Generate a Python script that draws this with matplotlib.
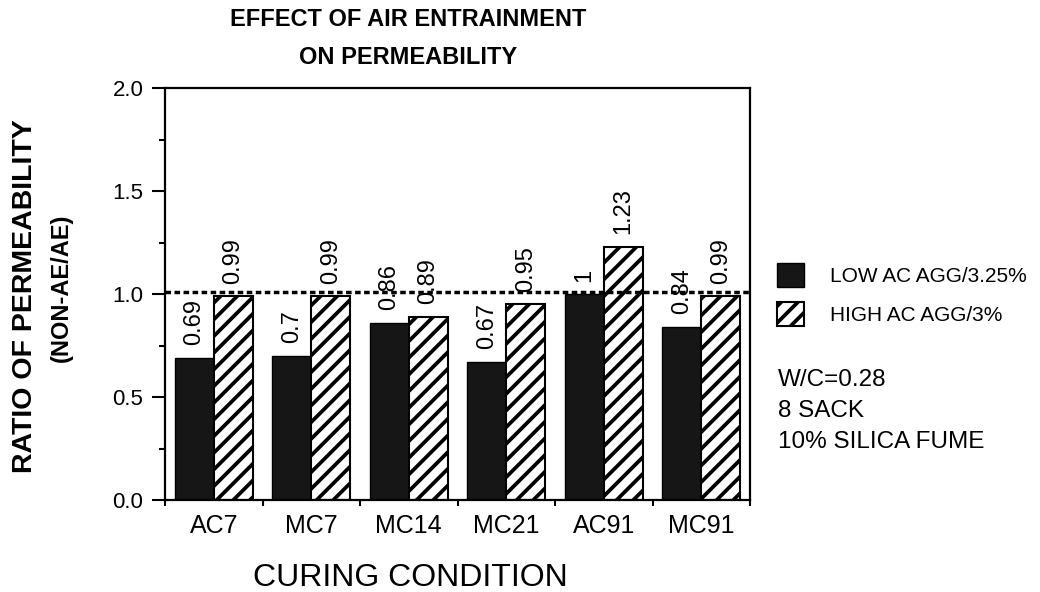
import numpy as np
import matplotlib.pyplot as plt
from matplotlib.ticker import MultipleLocator

plt.rcParams['font.family'] = ['Liberation Sans', 'DejaVu Sans']
plt.rcParams['hatch.linewidth'] = 2.7

# data
conditions = ['AC7', 'MC7', 'MC14', 'MC21', 'AC91', 'MC91']
low_ac = [0.69, 0.7, 0.86, 0.67, 1, 0.84]
high_ac = [0.99, 0.99, 0.89, 0.95, 1.23, 0.99]
ref_level = 1.01
notes = ['W/C=0.28', '8 SACK', '10% SILICA FUME']

fig = plt.figure(figsize=(10.4, 5.92), dpi=100)
ax = fig.add_axes([165 / 1040, 92 / 592, 585 / 1040, 412 / 592])

x = np.arange(len(conditions))
w = 0.4
b1 = ax.bar(x - w / 2, low_ac, w, color='#161616', edgecolor='black', linewidth=1,
            label='LOW AC AGG/3.25%')
b2 = ax.bar(x + w / 2, high_ac, w, color='white', edgecolor='black', hatch='//',
            linewidth=1.5, label='HIGH AC AGG/3%')

# value labels, rotated
for bars, vals in ((b1, low_ac), (b2, high_ac)):
    for r, v in zip(bars, vals):
        ax.annotate(f'{v:g}', (r.get_x() + r.get_width() / 2, r.get_height()),
                    xytext=(0, 9), textcoords='offset points', rotation=90,
                    ha='center', va='bottom', fontsize=17)

ax.axhline(ref_level, color='black', linestyle=(0, (1.6, 1.0)), linewidth=2.5)

ax.set_xlim(-0.5, 5.5)
ax.set_ylim(0, 2.0)
ax.yaxis.set_major_locator(MultipleLocator(0.5))
ax.yaxis.set_minor_locator(MultipleLocator(0.25))
ax.set_yticklabels([f'{t:.1f}' for t in ax.get_yticks()])
ax.tick_params(axis='y', which='major', direction='out', length=9.5, width=1.5,
               labelsize=16, pad=6)
ax.tick_params(axis='y', which='minor', direction='out', length=4.5, width=1.5)
ax.set_xticks(x)
ax.set_xticklabels(conditions)
ax.set_xticks(np.arange(-0.5, 6, 1), minor=True)
ax.tick_params(axis='x', which='major', length=0, labelsize=18, pad=10)
ax.tick_params(axis='x', which='minor', direction='out', length=4, width=1.5)
for s in ax.spines.values():
    s.set_linewidth(1.6)

fig.text(408 / 1040, 1 - 20 / 592, 'EFFECT OF AIR ENTRAINMENT', ha='center', va='center',
         fontsize=17, fontweight='bold')
fig.text(408 / 1040, 1 - 58 / 592, 'ON PERMEABILITY', ha='center', va='center',
         fontsize=17, fontweight='bold')
fig.text(25 / 1040, 1 - 296 / 592, 'RATIO OF PERMEABILITY', rotation=90,
         ha='center', va='center', fontsize=20.5, fontweight='bold')
fig.text(61 / 1040, 1 - 288 / 592, '(NON-AE/AE)', rotation=90,
         ha='center', va='center', fontsize=17, fontweight='bold')
fig.text(410 / 1040, 1 - 578 / 592, 'CURING CONDITION', ha='center', va='center', fontsize=23)

fig.legend(handles=[b1, b2], loc='upper left', bbox_to_anchor=(777 / 1040, 1 - 263 / 592),
           frameon=False, borderpad=0, borderaxespad=0, handlelength=1.3, handleheight=1.4,
           labelspacing=0.72, handletextpad=1.25, fontsize=15)

for i, line in enumerate(notes):
    fig.text(778 / 1040, 1 - (380 + 31 * i) / 592, line, ha='left', va='center', fontsize=17.5)

fig.savefig('out.png', dpi=100)
